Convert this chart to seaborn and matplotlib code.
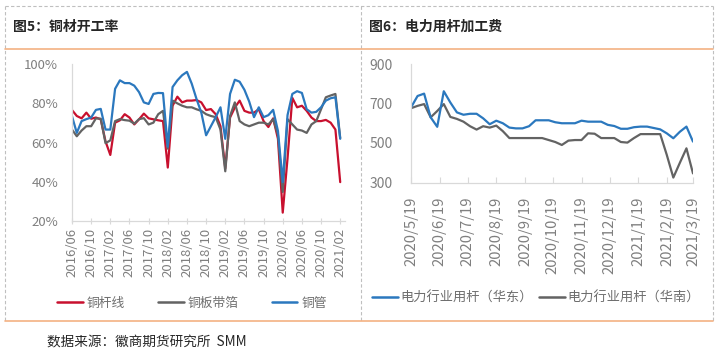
import matplotlib
matplotlib.use("Agg")

import pandas as pd
import seaborn as sns
from matplotlib import pyplot as plt
from matplotlib.lines import Line2D


# 图5：铜材开工率（%），月度 2016/06 - 2021/02
rate_months = pd.date_range("2016-06-01", "2021-02-01", freq="MS").strftime("%Y/%m").tolist()
rod_wire = [  # 铜杆线
    76.6, 73.6, 72.4, 75.3, 72.2, 72.8, 71.9, 60.7, 53.8, 70.2,
    71.4, 74.5, 72.8, 69.3, 71.9, 74.8, 72.4, 71.9, 71.4, 71.0,
    47.4, 78.8, 83.4, 80.5, 81.4, 81.4, 81.7, 80.5, 76.6, 77.1,
    74.5, 68.4, 47.0, 72.8, 77.9, 81.4, 76.2, 75.3, 75.3, 77.0,
    71.0, 68.0, 72.4, 62.0, 24.5, 52.0, 82.8, 78.0, 78.8, 76.2,
    72.8, 71.0, 71.0, 71.6, 70.2, 66.7, 40.0,
]
plate_strip = [  # 铜板带箔
    66.7, 63.3, 66.2, 68.4, 68.4, 72.4, 72.2, 59.8, 61.2, 71.0,
    72.0, 71.5, 71.2, 69.7, 72.0, 72.5, 69.3, 70.2, 74.5, 76.2,
    57.0, 81.4, 80.0, 78.8, 78.0, 78.0, 77.0, 76.2, 74.5, 73.6,
    73.0, 66.7, 45.5, 73.6, 80.5, 71.0, 69.3, 68.4, 69.3, 70.2,
    70.2, 69.3, 72.0, 64.0, 35.0, 72.0, 69.3, 66.7, 66.2, 65.0,
    69.3, 71.0, 77.0, 83.1, 84.0, 84.8, 62.4,
]
tube = [  # 铜管
    73.5, 65.0, 71.0, 72.0, 72.8, 76.7, 77.2, 66.7, 66.7, 87.4,
    91.7, 90.3, 90.3, 89.0, 85.7, 80.5, 79.7, 84.8, 85.3, 85.2,
    58.0, 88.3, 91.7, 94.3, 96.0, 90.0, 82.2, 75.3, 63.8, 68.4,
    73.0, 78.0, 62.0, 84.8, 92.0, 91.0, 86.9, 80.9, 73.0, 78.0,
    73.0, 74.0, 76.7, 66.0, 40.0, 74.0, 84.8, 86.2, 85.3, 77.0,
    75.3, 75.7, 78.0, 81.4, 82.6, 83.1, 62.0,
]
rate_names = ["铜杆线", "铜板带箔", "铜管"]
rate_ticks = ["20%", "40%", "60%", "80%", "100%"]

# 图6：电力用杆加工费（元/吨），周度
fee_dates = pd.date_range("2020-05-19", "2021-03-19", periods=44)
fee_east = [
    680, 738, 750, 630, 582, 762, 705, 655, 643, 648, 648, 625, 595, 613, 600,
    578, 574, 574, 585, 615, 615, 615, 605, 600, 600, 600, 613, 608, 608, 608,
    592, 586, 572, 572, 580, 583, 583, 576, 569, 549, 524, 557, 583, 507,
]
fee_south = [
    676, 688, 697, 630, 662, 697, 632, 622, 608, 585, 568, 585, 578, 588, 560,
    525, 525, 525, 525, 525, 525, 515, 505, 490, 512, 515, 515, 549, 547, 525,
    525, 525, 505, 502, 525, 545, 545, 545, 545, 440, 325, 400, 473, 346,
]
fee_names = ["电力行业用杆（华东）", "电力行业用杆（华南）"]
fee_ticks = [
    "2020/5/19", "2020/6/19", "2020/7/19", "2020/8/19", "2020/9/19", "2020/10/19",
    "2020/11/19", "2020/12/19", "2021/1/19", "2021/2/19", "2021/3/19",
]

RED, GRAY, BLUE = "#C8102E", "#636363", "#2B78BE"
TICK_GRAY = "#7F7F7F"
AXIS_GRAY = "#D9D9D9"
W, H = 716, 355


def fx(px):
    return px / W


def fy(py):
    return 1 - py / H


def style_axes(ax):
    for side in ("top", "right"):
        ax.spines[side].set_visible(False)
    for side in ("left", "bottom"):
        ax.spines[side].set_color(AXIS_GRAY)
        ax.spines[side].set_linewidth(0.9)
    ax.set_xlabel("")
    ax.set_ylabel("")
    ax.grid(False)


sns.set_theme(style="white")
plt.rcParams["font.family"] = ["Noto Sans CJK SC", "DejaVu Sans"]

fig = plt.figure(figsize=(W / 100, H / 100), dpi=100)

# ---- left: 开工率
rates = pd.DataFrame({
    "idx": list(range(len(rate_months))) * 3,
    "rate": rod_wire + plate_strip + tube,
    "series": sum([[n] * len(rate_months) for n in rate_names], []),
})
ax1 = fig.add_axes([fx(72), fy(221.5), fx(345) - fx(72), fy(64) - fy(221.5)])
sns.lineplot(data=rates, x="idx", y="rate", hue="series", hue_order=rate_names,
             palette=[RED, GRAY, BLUE], linewidth=1.6, legend=False, ax=ax1)
style_axes(ax1)
ax1.set_ylim(20, 100)
ax1.set_yticks([20, 40, 60, 80, 100])
ax1.set_yticklabels(rate_ticks)
ax1.set_xlim(0, 57)
ax1.set_xticks(range(0, len(rate_months), 4))
ax1.set_xticklabels(rate_months[::4], rotation=90)
ax1.tick_params(axis="y", length=0, pad=10, labelsize=9.5, labelcolor=TICK_GRAY)
ax1.tick_params(axis="x", length=4, width=0.8, color=AXIS_GRAY, direction="inout",
                pad=2.5, labelsize=9.5, labelcolor=TICK_GRAY, bottom=True)

# ---- right: 加工费
fees = pd.DataFrame({
    "date": list(fee_dates) * 2,
    "fee": fee_east + fee_south,
    "series": [fee_names[0]] * len(fee_east) + [fee_names[1]] * len(fee_south),
})
ax2 = fig.add_axes([fx(411), fy(182.5), fx(693) - fx(411), fy(64) - fy(182.5)])
sns.lineplot(data=fees, x="date", y="fee", hue="series", hue_order=fee_names[::-1],
             palette=[GRAY, BLUE], linewidth=1.6, legend=False, ax=ax2)
style_axes(ax2)
ax2.set_ylim(300, 900)
ax2.set_yticks([300, 500, 700, 900])
ax2.set_xlim(pd.Timestamp("2020-05-19"), pd.Timestamp("2021-03-19"))
ax2.set_xticks(pd.to_datetime(fee_ticks, format="%Y/%m/%d"))
ax2.set_xticklabels(fee_ticks, rotation=90)
ax2.tick_params(axis="y", length=0, pad=13, labelsize=10, labelcolor=TICK_GRAY)
ax2.tick_params(axis="x", length=4, width=0.8, color=AXIS_GRAY, direction="in",
                pad=10, labelsize=10.7, labelcolor=TICK_GRAY, bottom=True)

# ---- legends
left_handles = [Line2D([], [], color=c, lw=1.8) for c in (RED, GRAY, BLUE)]
fig.legend(left_handles, rate_names, loc="center", bbox_to_anchor=(fx(192), fy(303)),
           ncol=3, frameon=False, handlelength=2.0, handletextpad=0.3,
           columnspacing=2.6, fontsize=9.2, labelcolor="#6E6E6E")
right_handles = [Line2D([], [], color=c, lw=1.8) for c in (BLUE, GRAY)]
fig.legend(right_handles, fee_names, loc="center", bbox_to_anchor=(fx(536), fy(298)),
           ncol=2, frameon=False, handlelength=2.0, handletextpad=0.2,
           columnspacing=0.4, fontsize=9.5, labelcolor="#6E6E6E")

# ---- frame, titles, source
dash = dict(color="#BFBFBF", lw=0.8, ls=(0, (3, 2)))
fig.add_artist(Line2D([fx(5), fx(713)], [fy(6), fy(6)], **dash))
for x in (5, 361, 713):
    fig.add_artist(Line2D([fx(x), fx(x)], [fy(6), fy(321)], **dash))
for y in (49, 321):
    fig.add_artist(Line2D([fx(5), fx(713)], [fy(y), fy(y)], color="#F4B183", lw=1.2))

fig.text(fx(13), fy(27), "图5：铜材开工率", fontsize=10, weight="bold", va="center")
fig.text(fx(369), fy(27), "图6：电力用杆加工费", fontsize=10, weight="bold", va="center")
fig.text(fx(47), fy(342), "数据来源：徽商期货研究所  SMM", fontsize=9.8, va="center",
         color="#262626")

fig.savefig("out.png", dpi=100)
plt.close(fig)
